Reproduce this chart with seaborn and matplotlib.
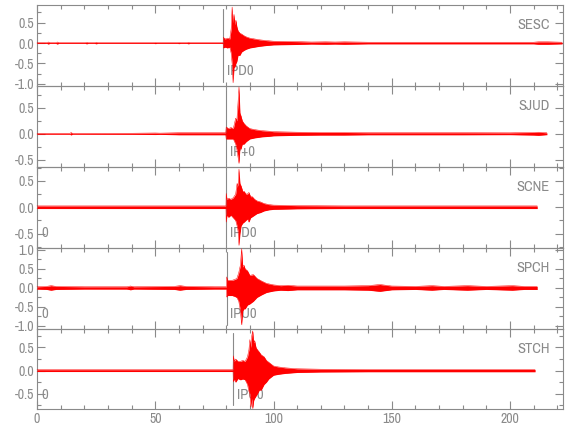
import matplotlib
matplotlib.use("Agg")
import matplotlib.pyplot as plt
import seaborn as sns
import numpy as np
import pandas as pd
from matplotlib.ticker import MultipleLocator, FormatStrFormatter
from matplotlib import font_manager

# ---------------- data ----------------
stations = ["SESC", "SJUD", "SCNE", "SPCH", "STCH"]
pick_times = [78.8, 80.0, 80.0, 80.2, 83.0]
pick_labels = ["IPD0", "IP+0", "IPD0", "IPU0", "IPU0"]
zero_label_panels = [False, False, True, True, True]
ylims = [(-1.05, 0.93), (-0.64, 0.92), (-0.77, 0.76), (-1.08, 1.05), (-0.83, 0.90)]
xticks = [0, 50, 100, 150, 200]

# envelope of each seismogram (upper / lower extremes) at times t (s)
t_sesc = [0, 4.2, 4.8, 5.4, 8.0, 8.6, 9.2, 20.4, 21, 21.6, 24.4, 25, 25.6, 49.4, 50, 50.6,
          59.4, 60, 60.6, 63.4, 64, 64.6, 78.7,
          78.8, 79.5, 80.5, 81.5, 82.1, 82.5, 82.9, 83.3, 83.7, 84.1, 84.5, 85.0, 85.8, 86.5,
          87.5, 88.5, 90, 92, 94, 97, 100, 105, 110, 116, 122, 126, 130, 135, 140, 160, 180,
          200, 210, 212, 216, 222]
hi_sesc = [.01, .01, .025, .01, .01, .025, .01, .01, .02, .01, .01, .02, .01, .01, .015, .01,
           .01, .015, .01, .01, .02, .01, .01,
           .14, .1, .12, .1, .35, .88, .5, .7, .45, .56, .4, .3, .24, .22,
           .18, .15, .12, .1, .08, .06, .045, .04, .035, .025, .03, .025, .03, .025, .02, .02, .02,
           .02, .02, .03, .03, .02]
lo_sesc = [-.01, -.01, -.025, -.01, -.01, -.025, -.01, -.01, -.02, -.01, -.01, -.02, -.01, -.01, -.015, -.01,
           -.01, -.015, -.01, -.01, -.02, -.01, -.01,
           -.12, -.1, -.12, -.1, -.25, -.5, -.97, -.6, -.58, -.5, -.45, -.3, -.3, -.22,
           -.18, -.15, -.12, -.1, -.08, -.06, -.045, -.04, -.035, -.025, -.03, -.025, -.03, -.025, -.02, -.02, -.02,
           -.02, -.02, -.03, -.03, -.02]

t_sjud = [0, 14, 14.4, 15, 40, 50, 52, 60, 70, 79.8, 80.0, 81, 82, 83, 84, 84.5, 85.0, 85.4, 85.8, 86.2,
          86.8, 87.5, 88.5, 90, 92, 95, 98, 100, 105, 110, 120, 130, 140, 150, 160, 180, 200, 210, 212, 215.6]
hi_sjud = [.008, .008, .025, .008, .01, .015, .012, .02, .02, .02, .13, .1, .12, .1, .3, .25, .6, .9, .4, .35,
           .25, .2, .15, .1, .08, .06, .05, .04, .035, .03, .025, .025, .02, .02, .02, .02, .018, .025, .03, .018]
lo_sjud = [-.008, -.008, -.025, -.008, -.01, -.015, -.012, -.02, -.02, -.02, -.1, -.1, -.1, -.1, -.2, -.3, -.45, -.57, -.26, -.3,
           -.2, -.2, -.15, -.1, -.08, -.06, -.05, -.04, -.035, -.03, -.025, -.025, -.02, -.02, -.02, -.02, -.018, -.025, -.03, -.018]

t_scne = [0, 20, 40, 60, 79.9, 80.0, 80.3, 81, 82, 83, 84, 84.6, 85.0, 85.4, 85.8, 86.3, 87, 87.6, 88.3, 89,
          89.6, 90.3, 91, 92, 93, 94.5, 96, 98, 100, 105, 110, 130, 150, 170, 190, 211.5]
hi_scne = [.025, .025, .025, .025, .025, .26, .15, .17, .15, .18, .25, .45, .4, .72, .45, .4, .3, .3, .25, .25,
           .28, .2, .2, .15, .12, .1, .07, .05, .04, .035, .03, .025, .025, .025, .025, .025]
lo_scne = [-.025, -.025, -.025, -.025, -.025, -.28, -.15, -.19, -.15, -.2, -.25, -.35, -.45, -.72, -.5, -.35, -.3, -.28, -.25, -.22,
           -.28, -.2, -.18, -.15, -.12, -.1, -.07, -.05, -.04, -.035, -.03, -.025, -.025, -.025, -.025, -.025]

t_spch = [0, 4, 6, 8, 20, 38, 39.5, 41, 58, 60.5, 63, 75, 80.1, 80.2, 80.6, 81.5, 82.5, 83.5, 84.5, 85.3,
          86.0, 86.5, 87.0, 87.5, 88.0, 89, 90, 91.5, 93, 95, 97, 100, 103, 106, 110, 120, 130, 140, 145, 150,
          160, 167, 172, 182, 190, 201, 206, 211.5]
hi_spch = [.03, .04, .06, .04, .03, .03, .05, .03, .04, .06, .04, .03, .03, .29, .2, .2, .2, .22, .25, .4,
           .6, 1.03, .55, .6, .5, .45, .33, .35, .25, .18, .12, .08, .06, .07, .05, .05, .05, .06, .09, .05,
           .04, .06, .04, .06, .04, .06, .04, .04]
lo_spch = [-.03, -.04, -.06, -.04, -.03, -.03, -.05, -.03, -.04, -.06, -.04, -.03, -.03, -.24, -.2, -.2, -.2, -.22, -.25, -.35,
           -.6, -.97, -.6, -.55, -.55, -.45, -.42, -.35, -.25, -.18, -.12, -.08, -.06, -.07, -.05, -.05, -.05, -.06, -.09, -.05,
           -.04, -.06, -.04, -.06, -.04, -.06, -.04, -.04]

t_stch = [0, 20, 40, 60, 82.9, 83.0, 83.4, 84, 85, 86, 87, 88, 89, 89.6, 90.0, 90.4, 90.8, 91.2, 91.6, 92.0,
          92.6, 93.2, 94, 94.8, 96, 97, 98, 100, 102, 105, 110, 120, 140, 160, 180, 200, 210.6]
hi_stch = [.02, .02, .02, .02, .02, .32, .2, .25, .2, .2, .22, .2, .3, .45, .67, .5, .75, .86, .6, .65,
           .5, .45, .4, .34, .3, .22, .18, .1, .08, .06, .04, .03, .025, .025, .025, .025, .025]
lo_stch = [-.02, -.02, -.02, -.02, -.02, -.24, -.18, -.25, -.17, -.2, -.18, -.2, -.3, -.45, -.5, -.79, -.6, -.82, -.65, -.6,
           -.55, -.5, -.42, -.42, -.3, -.25, -.18, -.1, -.08, -.06, -.04, -.03, -.025, -.025, -.025, -.025, -.025]

traces = [(t_sesc, hi_sesc, lo_sesc), (t_sjud, hi_sjud, lo_sjud), (t_scne, hi_scne, lo_scne),
          (t_spch, hi_spch, lo_spch), (t_stch, hi_stch, lo_stch)]

# ---------------- style ----------------
sns.set_style("ticks")
names = sorted({f.name for f in font_manager.fontManager.ttflist})
narrow = [n for n in names if ("Narrow" in n or "Condensed" in n) and "Mono" not in n and "Serif" not in n]
fam = narrow[:1] + [n for n in ["Roboto", "DejaVu Sans"] if n in names]
plt.rcParams["font.family"] = fam + ["DejaVu Sans"]
GRAY = "#8a8a8a"
RED = "#ff0000"
FW = "light"

W, H = 580, 440
fig = plt.figure(figsize=(W / 100, H / 100), dpi=100)
tops = [5, 86, 167, 248, 329]
bots = [86, 167, 248, 329, 409]
left_px, right_px = 37, 563

for i, sta in enumerate(stations):
    ax = fig.add_axes([left_px / W, 1 - bots[i] / H, (right_px - left_px) / W, (bots[i] - tops[i]) / H])
    t, hi, lo = traces[i]
    df = pd.DataFrame({"t": t + t, "amp": hi + lo, "edge": ["hi"] * len(t) + ["lo"] * len(t)})
    ax.fill_between(t, lo, hi, color=RED, lw=0, zorder=3, clip_on=False)
    sns.lineplot(data=df, x="t", y="amp", hue="edge", palette=[RED, RED], estimator=None,
                 linewidth=0.35, legend=False, ax=ax, zorder=3, clip_on=False)

    ax.set_xlim(0, 222.4)
    ax.set_ylim(*ylims[i])
    ax.set_xlabel("")
    ax.set_ylabel("")
    ax.set_xticks(xticks)
    ax.xaxis.set_minor_locator(MultipleLocator(10))
    ax.yaxis.set_major_locator(MultipleLocator(0.5))
    ax.yaxis.set_minor_locator(MultipleLocator(0.25))
    ax.yaxis.set_major_formatter(FormatStrFormatter("%.1f"))
    ax.tick_params(which="both", direction="in", top=True, right=True, color=GRAY,
                   labelcolor=GRAY, width=0.8, labelsize=10, pad=2)
    ax.tick_params(which="major", length=6)
    ax.tick_params(which="minor", length=3)
    for lab in ax.get_xticklabels() + ax.get_yticklabels():
        lab.set_fontweight(FW)
    if i < 4:
        ax.tick_params(labelbottom=False)
    for sp in ax.spines.values():
        sp.set_color(GRAY)
        sp.set_linewidth(0.8)
        sp.set_visible(True)
    ax.set_facecolor("none")

    ax.axvline(pick_times[i], ymin=0.05, ymax=0.95, color=GRAY, lw=0.8, zorder=2)
    trans = ax.get_xaxis_transform()
    ax.text(pick_times[i] + 1.5, 0.18, pick_labels[i], transform=trans, ha="left", va="center",
            color=GRAY, fontsize=10.5, fontweight=FW, zorder=1)
    if zero_label_panels[i]:
        ax.text(1.9, 0.18, "0", transform=trans, ha="left", va="center", color=GRAY,
                fontsize=10.5, fontweight=FW, zorder=1)
    ax.text(0.975, 0.75, sta, transform=ax.transAxes, ha="right", va="center",
            color=GRAY, fontsize=10.5, fontweight=FW)

fig.savefig("out.png", dpi=100)
